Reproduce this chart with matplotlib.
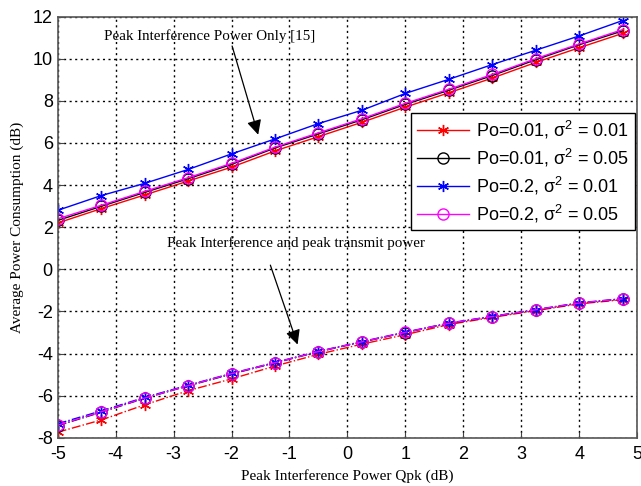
import matplotlib
matplotlib.use('Agg')
import matplotlib.pyplot as plt
import numpy as np

# peak interference power Qpk (dB)
qpk = [-5, -4.25, -3.5, -2.75, -2, -1.25, -0.5, 0.25, 1, 1.75, 2.5, 3.25, 4, 4.75]

# peak interference power only [15]
only_red = [2.2, 2.88, 3.53, 4.19, 4.85, 5.62, 6.3, 6.98, 7.7, 8.38, 9.08, 9.82, 10.52, 11.2]
only_black = [2.32, 2.99, 3.65, 4.3, 4.98, 5.76, 6.43, 7.1, 7.83, 8.5, 9.2, 9.95, 10.66, 11.32]
only_blue = [2.8, 3.5, 4.08, 4.74, 5.48, 6.19, 6.92, 7.55, 8.35, 9.02, 9.72, 10.4, 11.08, 11.81]
only_magenta = [2.4, 3.04, 3.7, 4.35, 5.03, 5.8, 6.48, 7.15, 7.88, 8.55, 9.25, 10.0, 10.7, 11.38]

# peak interference and peak transmit power
both_red = [-7.73, -7.15, -6.43, -5.76, -5.2, -4.59, -4.03, -3.55, -3.1, -2.62, -2.28, -1.96, -1.64, -1.44]
both_black = [-7.42, -6.78, -6.12, -5.53, -4.97, -4.44, -3.91, -3.45, -3.0, -2.57, -2.25, -1.93, -1.61, -1.41]
both_blue = [-7.33, -6.72, -6.08, -5.5, -4.94, -4.42, -3.89, -3.43, -2.98, -2.55, -2.23, -1.91, -1.59, -1.39]
both_magenta = [-7.4, -6.76, -6.11, -5.52, -4.95, -4.43, -3.9, -3.44, -2.99, -2.56, -2.24, -1.92, -1.6, -1.4]

labels = ['Po=0.01, σ$^2$ = 0.01', 'Po=0.01, σ$^2$ = 0.05',
          'Po=0.2, σ$^2$ = 0.01', 'Po=0.2, σ$^2$ = 0.05']

plt.rcParams['font.family'] = ['Liberation Sans', 'DejaVu Sans']
plt.rcParams['mathtext.fontset'] = 'custom'
plt.rcParams['mathtext.rm'] = 'Liberation Sans'
plt.rcParams['mathtext.it'] = 'Liberation Sans'
plt.rcParams['axes.unicode_minus'] = False

fig = plt.figure(figsize=(6.41, 4.86), dpi=100)
ax = fig.add_axes([0.09, 0.099, 0.904, 0.867])

asterisk = (6, 2, 0)
styles = [('#ff0000', asterisk, 'full'), ('black', 'o', 'none'),
          ('#0000ff', asterisk, 'full'), ('#ff00ff', 'o', 'none')]
upper = [only_red, only_black, only_blue, only_magenta]
lower = [both_red, both_black, both_blue, both_magenta]

for (c, m, fill), y, lab in zip(styles, upper, labels):
    ax.plot(qpk, y, color=c, marker=m, markersize=8, fillstyle=fill,
            markeredgewidth=1.0, linewidth=1.0, label=lab)
for (c, m, fill), y in zip(styles, lower):
    ax.plot(qpk, y, color=c, marker=m, markersize=8, fillstyle=fill,
            markeredgewidth=1.0, linewidth=1.0, linestyle='-.')

ax.set_xlim(-5, 5)
ax.set_ylim(-8, 12)
ax.set_xticks(np.arange(-5, 6, 1))
ax.set_yticks(np.arange(-8, 13, 2))
ax.tick_params(labelsize=13, direction='in', length=4, color='#444444')
ax.tick_params(axis='x', pad=6)
ax.grid(True, linestyle=(0, (1.5, 2.5)), color='black', linewidth=1.0)
for s in ax.spines.values():
    s.set_color('#555555')
    s.set_linewidth(1.2)

ax.set_xlabel('Peak Interference Power Qpk (dB)', family='Liberation Serif', fontsize=11, labelpad=4)
ax.set_ylabel('Average Power Consumption (dB)', family='Liberation Serif', fontsize=11, labelpad=6)

arrow = dict(arrowstyle='-|>', color='black', lw=0.9, mutation_scale=22, shrinkA=0, shrinkB=0)
ax.text(-4.2, 11.05, 'Peak Interference Power Only [15]', family='Liberation Serif',
        fontsize=10.8, va='center', ha='left')
ax.annotate('', xy=(-1.54, 6.39), xytext=(-1.99, 10.6), arrowprops=arrow)
ax.text(-3.12, 1.25, 'Peak Interference and peak transmit power', family='Liberation Serif',
        fontsize=10.8, va='center', ha='left')
ax.annotate('', xy=(-0.86, -3.57), xytext=(-1.33, 0.2), arrowprops=arrow)

leg = ax.legend(loc='upper left', bbox_to_anchor=(0.610, 0.771), borderaxespad=0,
                fontsize=13, fancybox=False, framealpha=1, edgecolor='black',
                handlelength=2.9, labelspacing=0.33, borderpad=0.3, handletextpad=0.4)
leg.get_frame().set_linewidth(1.0)

fig.savefig('out.png', dpi=100)
